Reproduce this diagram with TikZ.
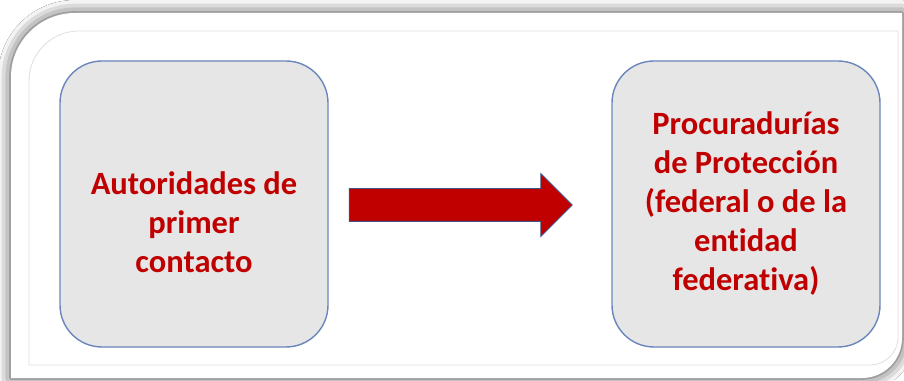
\documentclass[tikz,border=0pt]{standalone}
\usepackage{fontspec}
\setmainfont{Carlito}[Ligatures=NoCommon]
\usetikzlibrary{shapes.arrows,shadows.blur}
\definecolor{rojo}{HTML}{C00000}
\definecolor{grisCaja}{HTML}{E6E6E6}
\definecolor{bordeCaja}{HTML}{6A86BC}
\definecolor{bordeFlecha}{HTML}{3E5585}
\tikzset{
  caja/.style={draw=bordeCaja, fill=grisCaja, line width=1.4pt, rounded corners=42pt,
    minimum width=268pt, minimum height=286pt, inner sep=0pt},
  texto/.style={text=rojo, font=\bfseries\fontsize{32.5}{39}\selectfont, align=center},
  flecha/.style={single arrow, draw=bordeFlecha, fill=rojo, line width=0.8pt,
    minimum height=223pt, minimum width=62pt, single arrow head extend=15pt,
    inner xsep=0pt, inner ysep=16pt}
}

\begin{document}
\begin{tikzpicture}[x=1pt,y=1pt]
    \useasboundingbox (0,0) rectangle (904,380);
    \fill[white] (0,0) rectangle (904,380);
    % marco de la imagen con sombra
    \fill[white, blur shadow={shadow xshift=0pt, shadow yshift=0pt, shadow blur radius=13pt, shadow opacity=75}]
        (11,2) -- (11,303) arc[start angle=180, end angle=90, radius=64pt] -- (902,367)
        -- (902,42) arc[start angle=0, end angle=-90, radius=40pt] -- cycle;
    \draw[gray!25, line width=0.8pt] (29,15) -- (29,299) arc[start angle=180, end angle=90, radius=50pt]
        -- (898,349) -- (898,43) arc[start angle=0, end angle=-90, radius=28pt] -- cycle;
    \node[caja] (autoridades) at (194,176) {};
    \node[caja] (procuradurias) at (746,176) {};
    \node[texto] (textoAut) at ([yshift=-18pt]autoridades.center) {Autoridades de\\primer\\contacto};
    \node[texto] (textoProc) at (procuradurias.center) {Procuradurías\\de Protección\\(federal o de la\\entidad\\federativa)};
    \node[flecha] (flecha) at (452.5,175) {};
% la flecha no toca las cajas
\end{tikzpicture}
\end{document}
